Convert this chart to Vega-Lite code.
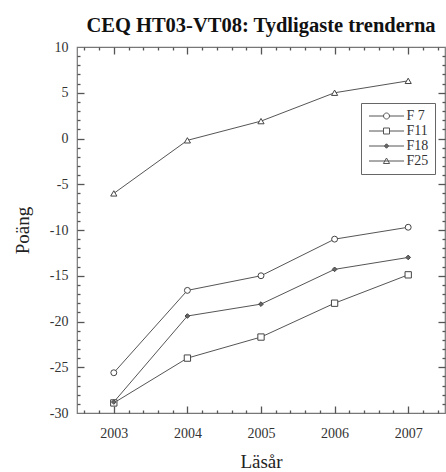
{
  "$schema": "https://vega.github.io/schema/vega-lite/v6.json",
  "width": 368,
  "height": 366,
  "autosize": "none",
  "padding": {"left": 77, "top": 47, "right": 1, "bottom": 59},
  "background": "white",
  "config": {"view": {"stroke": "#777", "strokeWidth": 1.2}, "font": "Liberation Serif",
    "axis": {"grid": false, "domain": false, "ticks": true, "tickColor": "#555", "tickWidth": 1.3, "labelFlush": false, "labelOverlap": false}},
  "title": {"text": "CEQ HT03-VT08: Tydligaste trenderna", "font": "Liberation Serif", "fontSize": 20.5, "fontWeight": "bold", "color": "#111", "anchor": "middle", "offset": 4},
  "data": {"values": [
    {"series": "F 7", "year": 2003, "value": -25.6},
    {"series": "F 7", "year": 2004, "value": -16.6},
    {"series": "F 7", "year": 2005, "value": -15.0},
    {"series": "F 7", "year": 2006, "value": -11.0},
    {"series": "F 7", "year": 2007, "value": -9.7},
    {"series": "F11", "year": 2003, "value": -28.9},
    {"series": "F11", "year": 2004, "value": -24.0},
    {"series": "F11", "year": 2005, "value": -21.7},
    {"series": "F11", "year": 2006, "value": -18.0},
    {"series": "F11", "year": 2007, "value": -14.9},
    {"series": "F18", "year": 2003, "value": -28.8},
    {"series": "F18", "year": 2004, "value": -19.4},
    {"series": "F18", "year": 2005, "value": -18.1},
    {"series": "F18", "year": 2006, "value": -14.3},
    {"series": "F18", "year": 2007, "value": -13.0},
    {"series": "F25", "year": 2003, "value": -6.0},
    {"series": "F25", "year": 2004, "value": -0.2},
    {"series": "F25", "year": 2005, "value": 1.9},
    {"series": "F25", "year": 2006, "value": 5.0},
    {"series": "F25", "year": 2007, "value": 6.3}
  ]},
  "layer": [
    {
      "mark": {"type": "line", "strokeWidth": 1},
      "encoding": {
        "x": {"field": "year", "type": "quantitative",
          "scale": {"domain": [2002.5, 2007.5], "nice": false, "zero": false},
          "axis": {"orient": "bottom", "offset": -7, "tickSize": 7, "tickOpacity": 0,
            "values": [2003, 2004, 2005, 2006, 2007], "format": "d",
            "labelFont": "Liberation Serif", "labelFontSize": 14, "labelColor": "#333", "labelPadding": 13,
            "title": "Läsår", "titleFont": "Liberation Serif", "titleFontSize": 19, "titleFontWeight": "normal", "titleColor": "#222", "titlePadding": 12}},
        "y": {"field": "value", "type": "quantitative",
          "scale": {"domain": [-30, 10], "nice": false, "zero": false},
          "axis": {"orient": "left", "offset": -7, "tickSize": 7, "tickOpacity": 0,
            "values": [-30, -25, -20, -15, -10, -5, 0, 5, 10], "labelExpr": "replace(datum.label, '−', '-')",
            "labelFont": "Liberation Serif", "labelFontSize": 14, "labelColor": "#333", "labelPadding": 9,
            "title": "Poäng", "titleFont": "Liberation Serif", "titleFontSize": 19, "titleFontWeight": "normal", "titleColor": "#222", "titlePadding": 17}},
        "color": {"field": "series", "type": "nominal",
          "scale": {"domain": ["F 7", "F11", "F18", "F25"], "range": ["#555", "#555", "#555", "#555"]},
          "legend": {"orient": "none", "legendX": 284, "legendY": 56, "title": null,
            "strokeColor": "#666", "fillColor": "white", "padding": 6, "rowPadding": 1,
            "symbolSize": 100, "symbolStrokeWidth": 1, "symbolOffset": 12.5, "labelOffset": 13,
            "labelFont": "Liberation Serif", "labelFontSize": 14, "labelColor": "#333",
            "encode": {"symbols": {"update": {
              "shape": {"signal": "datum.value === 'F 7' ? 'M-3.5,0H-0.6A0.6,0.6 0 1,1 0.6,0A0.6,0.6 0 1,1 -0.6,0M0.6,0H3.5' : datum.value === 'F11' ? 'M-3.5,0H-0.6V-0.6H0.6V0.6H-0.6V0M0.6,0H3.5' : datum.value === 'F18' ? 'M-3.5,0H-0.45L0,-0.45L0.45,0L0,0.45L-0.45,0M0.45,0H3.5' : 'M-3.5,0H3.5M-0.62,0.5L0,-0.6L0.62,0.5Z'"},
              "fill": {"signal": "datum.value === 'F18' ? '#666' : 'white'"},
              "stroke": {"value": "#444"},
              "strokeWidth": {"value": 1},
              "size": {"value": 100}
            }}}}}
      }
    },
    {
      "transform": [{"filter": "datum.series === 'F 7'"}],
      "mark": {"type": "point", "shape": "circle", "size": 35, "filled": true, "fill": "white", "stroke": "#444", "strokeWidth": 1, "opacity": 1},
      "encoding": {
        "x": {"field": "year", "type": "quantitative",
          "scale": {"domain": [2002.5, 2007.5], "nice": false, "zero": false},
          "axis": {"orient": "bottom", "labels": false, "title": null, "offset": 0, "tickSize": -7,
            "values": [2003, 2004, 2005, 2006, 2007]}},
        "y": {"field": "value", "type": "quantitative",
          "scale": {"domain": [-30, 10], "nice": false, "zero": false},
          "axis": {"orient": "left", "labels": false, "title": null, "offset": 0, "tickSize": -7,
            "values": [-25, -20, -15, -10, -5, 0, 5]}}
      }
    },
    {
      "transform": [{"filter": "datum.series === 'F11'"}],
      "mark": {"type": "point", "shape": "square", "size": 40, "filled": true, "fill": "white", "stroke": "#444", "strokeWidth": 1, "opacity": 1},
      "encoding": {
        "x": {"field": "year", "type": "quantitative",
          "axis": {"orient": "bottom", "labels": false, "title": null, "offset": 0, "tickSize": -3,
            "values": [2002.6, 2002.8, 2003.2, 2003.4, 2003.6, 2003.8, 2004.2, 2004.4, 2004.6, 2004.8, 2005.2, 2005.4, 2005.6, 2005.8, 2006.2, 2006.4, 2006.6, 2006.8, 2007.2, 2007.4]}},
        "y": {"field": "value", "type": "quantitative",
          "axis": {"orient": "left", "labels": false, "title": null, "offset": 0, "tickSize": -3,
            "values": [-29, -28, -27, -26, -24, -23, -22, -21, -19, -18, -17, -16, -14, -13, -12, -11, -9, -8, -7, -6, -4, -3, -2, -1, 1, 2, 3, 4, 6, 7, 8, 9]}}
      }
    },
    {
      "transform": [{"filter": "datum.series === 'F18'"}],
      "mark": {"type": "point", "shape": "diamond", "size": 22, "filled": true, "fill": "#666", "stroke": "#444", "strokeWidth": 1, "opacity": 1},
      "encoding": {
        "x": {"field": "year", "type": "quantitative",
          "axis": {"orient": "top", "labels": false, "title": null, "offset": 0, "tickSize": -7,
            "values": [2003, 2004, 2005, 2006, 2007]}},
        "y": {"field": "value", "type": "quantitative",
          "axis": {"orient": "right", "labels": false, "title": null, "offset": 0, "tickSize": -7,
            "values": [-25, -20, -15, -10, -5, 0, 5]}}
      }
    },
    {
      "transform": [{"filter": "datum.series === 'F25'"}],
      "mark": {"type": "point", "shape": "triangle-up", "size": 38, "filled": true, "fill": "white", "stroke": "#444", "strokeWidth": 1, "opacity": 1},
      "encoding": {
        "x": {"field": "year", "type": "quantitative",
          "axis": {"orient": "top", "labels": false, "title": null, "offset": 0, "tickSize": -3,
            "values": [2002.6, 2002.8, 2003.2, 2003.4, 2003.6, 2003.8, 2004.2, 2004.4, 2004.6, 2004.8, 2005.2, 2005.4, 2005.6, 2005.8, 2006.2, 2006.4, 2006.6, 2006.8, 2007.2, 2007.4]}},
        "y": {"field": "value", "type": "quantitative",
          "axis": {"orient": "right", "labels": false, "title": null, "offset": 0, "tickSize": -3,
            "values": [-29, -28, -27, -26, -24, -23, -22, -21, -19, -18, -17, -16, -14, -13, -12, -11, -9, -8, -7, -6, -4, -3, -2, -1, 1, 2, 3, 4, 6, 7, 8, 9]}}
      }
    }
  ],
  "resolve": {"axis": {"x": "independent", "y": "independent"}}
}
